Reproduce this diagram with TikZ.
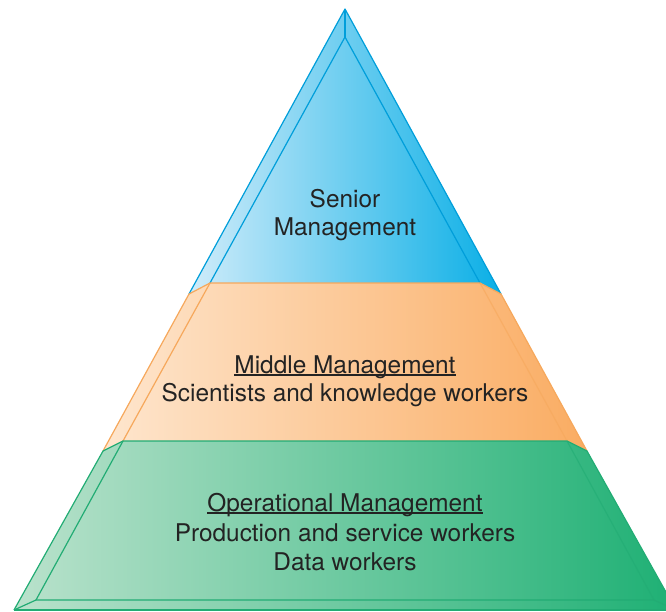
\documentclass[tikz,border=0pt]{standalone}
\usepackage{fontspec}
\setmainfont{TeX Gyre Heros}
\definecolor{bluelt}{RGB}{208,236,250}
\definecolor{bluedk}{RGB}{10,175,230}
\definecolor{bluest}{RGB}{0,158,218}
\definecolor{orlt}{RGB}{254,230,206}
\definecolor{ordk}{RGB}{250,172,98}
\definecolor{orst}{RGB}{246,168,92}
\definecolor{grlt}{RGB}{186,226,204}
\definecolor{grdk}{RGB}{30,176,116}
\definecolor{grst}{RGB}{34,172,116}
\definecolor{txt}{RGB}{35,35,35}
\newcommand{\ulx}[1]{\setbox0\hbox{#1}\rlap{\rule[-2.6pt]{\wd0}{1.3pt}}\box0}
\begin{document}
\begin{tikzpicture}[x=1pt,y=-1pt,
  edge/.style={line width=1.2pt,line join=round},
  lbl/.style={anchor=base,inner sep=0pt,text=txt,font=\fontsize{24.4}{29}\selectfont}]
\useasboundingbox (0,0) rectangle (666,611);
\clip (0,0) rectangle (666,611);
% key points
\coordinate (A) at (345,9);
\coordinate (I) at (345,37);
\coordinate (L1) at (189,294);
\coordinate (l1) at (210,283);
\coordinate (r1) at (480,283);
\coordinate (R1) at (501,294);
\coordinate (L2) at (103,451);
\coordinate (l2) at (123,441);
\coordinate (r2) at (567,441);
\coordinate (R2) at (587,451);
\coordinate (L3) at (14,610);
\coordinate (l3) at (36,600);
\coordinate (r3) at (654,600);
\coordinate (R3) at (676,610);
% fills
\shade[left color=bluelt,right color=bluedk] (A) -- (R1) -- (r1) -- (l1) -- (L1) -- cycle;
\shade[left color=orlt,right color=ordk] (L1) -- (l1) -- (r1) -- (R1) -- (R2) -- (r2) -- (l2) -- (L2) -- cycle;
\shade[left color=grlt,right color=grdk] (L2) -- (l2) -- (r2) -- (R2) -- (R3) -- (L3) -- cycle;
% blue edges
\draw[edge,bluest] (L1) -- (A) -- (R1);
\draw[edge,bluest] (A) -- (I);
\draw[edge,bluest] (l1) -- (I) -- (r1);
% orange edges
\draw[edge,orst] (L1) -- (l1) -- (r1) -- (R1);
\draw[edge,orst] (L1) -- (L2);
\draw[edge,orst] (R1) -- (R2);
\draw[edge,orst] (l1) -- (l2);
\draw[edge,orst,opacity=0.6] (r1) -- (r2);
% green edges
\draw[edge,grst] (L2) -- (l2) -- (r2) -- (R2);
\draw[edge,grst] (L2) -- (L3);
\draw[edge,grst] (R2) -- (R3);
\draw[edge,grst] (l2) -- (l3);
\draw[edge,grst,opacity=0.6] (r2) -- (r3);
\draw[edge,grst] (L3) -- (l3) -- (r3) -- (R3);
\draw[edge,grst] (L3) -- (R3);
% labels
\node[lbl] (t1) at (345,207) {Senior};
\node[lbl] (t2) at (345,235) {Management};
\node[lbl] (t3) at (345,373) {\ulx{Middle Management}};
\node[lbl] (t4) at (345,401) {Scientists and knowledge workers};
\node[lbl] (t5) at (345,511) {\ulx{Operational Management}};
\node[lbl] (t6) at (345,541) {Production and service workers};
\node[lbl] (t7) at (345,570) {Data workers};
\end{tikzpicture}
\end{document}
